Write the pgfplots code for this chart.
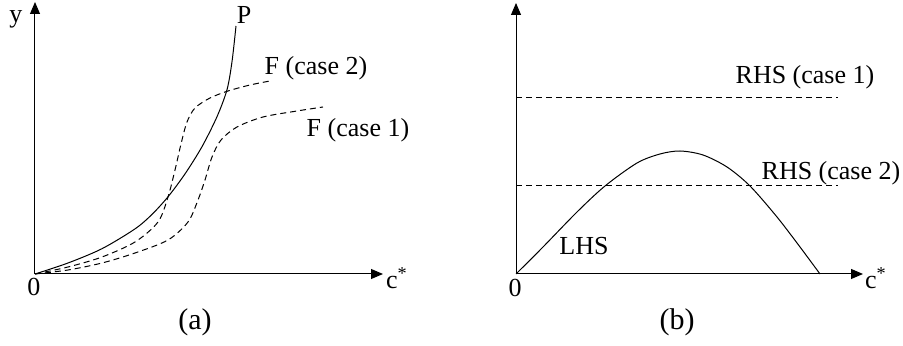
\documentclass[border=0pt]{standalone}
\usepackage{fontspec}
\setmainfont{Liberation Serif}
\usepackage{pgfplots}
\pgfplotsset{compat=1.18}
\usetikzlibrary{arrows.meta}

\newcommand{\lblfont}{\fontsize{13}{15}\selectfont}
\newcommand{\capfont}{\fontsize{15}{18}\selectfont}
\pgfplotsset{
  sketch/.style={
    x=0.5pt, y=0.5pt, xmin=0, ymin=0,
    axis lines=left, xtick=\empty, ytick=\empty, clip=false,
    axis line style={line width=0.5pt, -{Triangle[length=6pt,width=5pt]}},
    every axis plot/.append style={line width=0.5pt, black, no marks},
  },
}

\begin{document}
\begin{tikzpicture}[font=\lblfont]
\useasboundingbox (-17.5pt,-36pt) rectangle (434pt,137pt);

% (a) P against F for two cases
\begin{axis}[sketch, at={(0pt,0pt)}, anchor=origin, xmax=348, ymax=272]
\addplot[smooth] coordinates {
  (0,0) (33,11) (67,25.3) (100,45.1) (117,59.6) (133,77.2) (150,100.1)
  (167,127.3) (182,157.3) (192,184.3) (197,212.3) (201,248)};
\addplot[smooth, dash pattern=on 3pt off 2pt] coordinates {
  (0,0) (33,7) (67,17) (100,32) (123,52) (133,77) (140,104) (146,130)
  (152,152) (160,166) (175,176) (193,183) (215,189) (235,193)};
\addplot[smooth, dash pattern=on 3pt off 2pt] coordinates {
  (0,0) (33,4) (67,11) (100,21) (133,34) (153,52) (163,74) (170,94)
  (177,117) (186,134) (202,147) (228,157) (262,163) (288,167)};
\node[inner sep=0pt] at (axis cs:209,259) {\lblfont P};
\node[inner sep=0pt] at (axis cs:281,206) {\lblfont F (case 2)};
\node[inner sep=0pt] at (axis cs:323,144) {\lblfont F (case 1)};
\node[inner sep=0pt] at (axis cs:-19,255) {\lblfont y};
\node[inner sep=0pt] at (axis cs:-1,-13) {\lblfont 0};
\node[inner sep=0pt] at (axis cs:362,-4) {\lblfont c\textsuperscript{*}};
\node[inner sep=0pt] at (axis cs:160,-48) {\capfont (a)};
\end{axis}

% (b) LHS against the two RHS levels
\begin{axis}[sketch, at={(240.5pt,0pt)}, anchor=origin, xmax=347, ymax=271]
\addplot[smooth] coordinates {
  (0,0) (27,27) (61,62) (89,88) (121,111) (144,120) (164,123)
  (187,119) (211,107) (234,88) (261,57) (284,27) (304,0)};
\addplot[dash pattern=on 3pt off 2pt] coordinates {(0,176) (322,176)};
\addplot[dash pattern=on 3pt off 2pt] coordinates {(0,88) (322,88)};
\node[inner sep=0pt] at (axis cs:289,197) {\lblfont RHS (case 1)};
\node[inner sep=0pt] at (axis cs:315,101) {\lblfont RHS (case 2)};
\node[inner sep=0pt] at (axis cs:68,28) {\lblfont LHS};
\node[inner sep=0pt] at (axis cs:-1,-14) {\lblfont 0};
\node[inner sep=0pt] at (axis cs:360,-4) {\lblfont c\textsuperscript{*}};
\node[inner sep=0pt] at (axis cs:161,-48) {\capfont (b)};
\end{axis}
\end{tikzpicture}
\end{document}
